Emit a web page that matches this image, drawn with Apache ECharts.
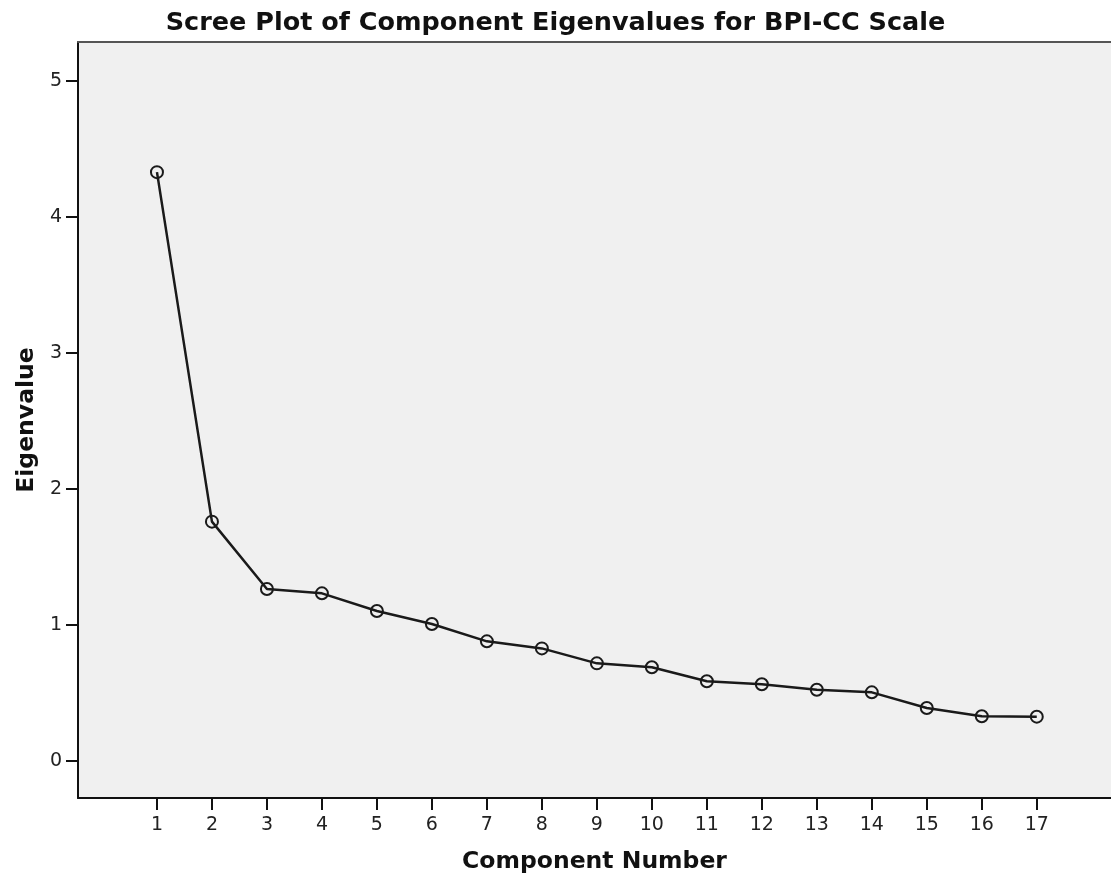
<!DOCTYPE html>
<html>
<head>
<meta charset="utf-8">
<script src="https://cdn.jsdelivr.net/npm/echarts@6/dist/echarts.min.js"></script>
<style>html,body{margin:0;padding:0;background:#fff;}#c{width:1111px;height:884px;}</style>
</head>
<body>
<div id="c"></div>
<script>
const components = [1,2,3,4,5,6,7,8,9,10,11,12,13,14,15,16,17];
const eigenvalues = [4.33,1.76,1.265,1.233,1.103,1.007,0.880,0.828,0.718,0.689,0.586,0.564,0.524,0.505,0.390,0.329,0.326];
const yTicks = [0,1,2,3,4,5];
const xTicks = components;

const chart = echarts.init(document.getElementById('c'), null, {renderer:'canvas'});
const FONT = 'DejaVu Sans';
chart.setOption({
  animation:false,
  backgroundColor:'#ffffff',
  title:{
    text:'Scree Plot of Component Eigenvalues for BPI-CC Scale',
    left:'center', top:5,
    textStyle:{fontFamily:FONT, fontWeight:'bold', fontSize:25.5, color:'#111'}
  },
  grid:{left:78, top:42, right:0, bottom:86, show:true, backgroundColor:'#f0f0f0', borderWidth:0},
  xAxis:[{
    type:'value', min:-0.436, max:18.35,
    axisLine:{show:true, onZero:false, lineStyle:{color:'#111', width:2}},
    axisTick:{show:true, customValues:xTicks, length:12, lineStyle:{color:'#111', width:2}},
    axisLabel:{customValues:xTicks, margin:18, fontFamily:FONT, fontSize:19, color:'#222'},
    splitLine:{show:false},
    name:'Component Number', nameLocation:'middle', nameGap:52,
    nameTextStyle:{fontFamily:FONT, fontWeight:'bold', fontSize:23.5, color:'#111'}
  },{
    type:'value', position:'top', min:-0.436, max:18.35,
    axisLine:{show:true, onZero:false, lineStyle:{color:'#555', width:2}},
    axisTick:{show:false}, axisLabel:{show:false}, splitLine:{show:false}
  }],
  yAxis:{
    type:'value', min:-0.272, max:5.287,
    axisLine:{show:true, onZero:false, lineStyle:{color:'#111', width:2}},
    axisTick:{show:true, customValues:yTicks, length:12, lineStyle:{color:'#111', width:2}},
    axisLabel:{customValues:yTicks, margin:16, fontFamily:FONT, fontSize:19, color:'#222'},
    splitLine:{show:false},
    name:'Eigenvalue', nameLocation:'middle', nameGap:38,
    nameTextStyle:{fontFamily:FONT, fontWeight:'bold', fontSize:23.5, color:'#111'}
  },
  series:[{
    type:'line',
    data:components.map((c,i)=>[c, eigenvalues[i]]),
    symbol:'circle', symbolSize:12, showSymbol:true,
    lineStyle:{color:'#1a1a1a', width:2.5},
    itemStyle:{color:'rgba(0,0,0,0)', borderColor:'#1a1a1a', borderWidth:2},
    z:3
  }]
});
</script>
</body>
</html>
